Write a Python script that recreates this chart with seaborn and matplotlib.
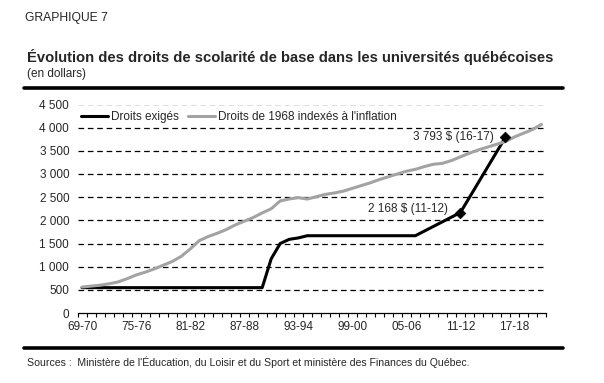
import matplotlib
matplotlib.use("Agg")
import matplotlib.pyplot as plt
from matplotlib.lines import Line2D
from matplotlib.ticker import FixedLocator, FuncFormatter
import numpy as np
import pandas as pd
import seaborn as sns

# school years, 69-70 to 20-21
years = ["69-70", "70-71", "71-72", "72-73", "73-74", "74-75", "75-76", "76-77",
         "77-78", "78-79", "79-80", "80-81", "81-82", "82-83", "83-84", "84-85",
         "85-86", "86-87", "87-88", "88-89", "89-90", "90-91", "91-92", "92-93",
         "93-94", "94-95", "95-96", "96-97", "97-98", "98-99", "99-00", "00-01",
         "01-02", "02-03", "03-04", "04-05", "05-06", "06-07", "07-08", "08-09",
         "09-10", "10-11", "11-12", "12-13", "13-14", "14-15", "15-16", "16-17",
         "17-18", "18-19", "19-20", "20-21"]

# Droits exigés (stops at 16-17)
droits_exiges = [547, 547, 547, 547, 547, 547, 547, 547, 547, 547, 547, 547,
                 547, 547, 547, 547, 547, 547, 547, 547, 547, 1170, 1500, 1590,
                 1620, 1668, 1668, 1668, 1668, 1668, 1668, 1668, 1668, 1668,
                 1668, 1668, 1668, 1668, 1768, 1868, 1968, 2068, 2168, 2493,
                 2818, 3143, 3468, 3793, np.nan, np.nan, np.nan, np.nan]

# Droits de 1968 indexés à l'inflation
droits_indexes = [560, 580, 600, 630, 670, 740, 820, 880, 950, 1030, 1110, 1220,
                  1380, 1560, 1650, 1720, 1800, 1900, 1980, 2060, 2160, 2250,
                  2420, 2460, 2490, 2460, 2510, 2560, 2590, 2630, 2690, 2750,
                  2810, 2880, 2940, 3000, 3060, 3100, 3160, 3210, 3230, 3290,
                  3370, 3450, 3520, 3580, 3640, 3700, 3800, 3880, 3960, 4070]

label_exiges = "Droits exigés"
label_indexes = "Droits de 1968 indexés à l'inflation"

# annotated points
point_years = ["11-12", "16-17"]
point_values = [2168, 3793]
point_labels = ["2 168 $ (11-12)", "3 793 $ (16-17)"]

tick_years = ["69-70", "75-76", "81-82", "87-88", "93-94", "99-00", "05-06", "11-12", "17-18"]

sns.set_style("white")
plt.rcParams["font.family"] = ["Liberation Sans", "DejaVu Sans"]

df = pd.DataFrame({
    "annee": years * 2,
    "droits": droits_exiges + droits_indexes,
    "serie": [label_exiges] * len(years) + [label_indexes] * len(years),
})
df["pos"] = df["annee"].map({y: i for i, y in enumerate(years)})
pts = pd.DataFrame({"pos": [years.index(y) for y in point_years], "droits": point_values})

W, H = 604, 383
fig = plt.figure(figsize=(W / 100, H / 100), dpi=100)
ax = fig.add_axes([77.5 / W, 70 / H, (546 - 77.5) / W, (313 - 104.5) / H])

sns.lineplot(data=df.dropna(), x="pos", y="droits", hue="serie",
             palette={label_exiges: "black", label_indexes: "#a3a3a3"},
             linewidth=2.2, ax=ax)
sns.scatterplot(data=pts, x="pos", y="droits", marker="D", s=30, color="black",
                edgecolor="black", zorder=5, ax=ax, legend=False)

for pos, val, lab in zip(pts["pos"], pts["droits"], point_labels):
    dy = 2.9 if val < 3000 else 0
    ax.annotate(lab, xy=(pos, val), xytext=(-8.6, dy), textcoords="offset points",
                ha="right", va="center", fontsize=8.5)

ax.set_xlim(-0.5, len(years) - 0.5)
ax.set_ylim(0, 4500)
ax.set_yticks(range(0, 4501, 500))
ax.yaxis.set_major_formatter(FuncFormatter(lambda v, p: f"{v:,.0f}".replace(",", " ")))
ax.set_xticks([years.index(y) for y in tick_years])
ax.set_xticklabels(tick_years)
ax.xaxis.set_minor_locator(FixedLocator(np.arange(-0.5, len(years), 1.0)))
ax.tick_params(axis="x", which="major", length=0, pad=6, labelsize=8.5)
ax.tick_params(axis="x", which="minor", length=3, width=0.8, direction="out", color="black", bottom=True)
ax.tick_params(axis="y", length=0, pad=6, labelsize=8.5)
ax.set_xlabel("")
ax.set_ylabel("")
for v in range(500, 4501, 500):
    ax.axhline(v, color="black", lw=0.9, ls=(0, (4.5, 3)), zorder=0)
for s in ["top", "right", "left"]:
    ax.spines[s].set_visible(False)
ax.spines["bottom"].set_color("black")
ax.spines["bottom"].set_linewidth(0.9)

handles, labels = ax.get_legend_handles_labels()
ax.legend(handles, labels, loc="center left", bbox_to_anchor=(0.008, 0.94), ncol=2,
          frameon=False, fontsize=8.5, handlelength=2.3, handletextpad=0.2,
          columnspacing=0.8, borderpad=0, borderaxespad=0)

fig.text(25 / W, 1 - 18 / H, "GRAPHIQUE 7", fontsize=8.7, va="center", ha="left")
fig.text(27 / W, 1 - 57 / H,
         "Évolution des droits de scolarité de base dans les universités québécoises",
         fontsize=10.6, fontweight="bold", va="center", ha="left")
fig.text(27 / W, 1 - 74 / H, "(en dollars)", fontsize=8.5, va="center", ha="left")
fig.text(27 / W, 1 - 362 / H,
         "Sources :  Ministère de l'Éducation, du Loisir et du Sport et ministère des Finances du Québec.",
         fontsize=7.6, va="center", ha="left")
fig.add_artist(Line2D([24 / W, 563 / W], [1 - 88 / H] * 2, lw=2.6, color="black"))
fig.add_artist(Line2D([24 / W, 563 / W], [1 - 348 / H] * 2, lw=2.6, color="black"))

fig.savefig("out.png", dpi=100)
